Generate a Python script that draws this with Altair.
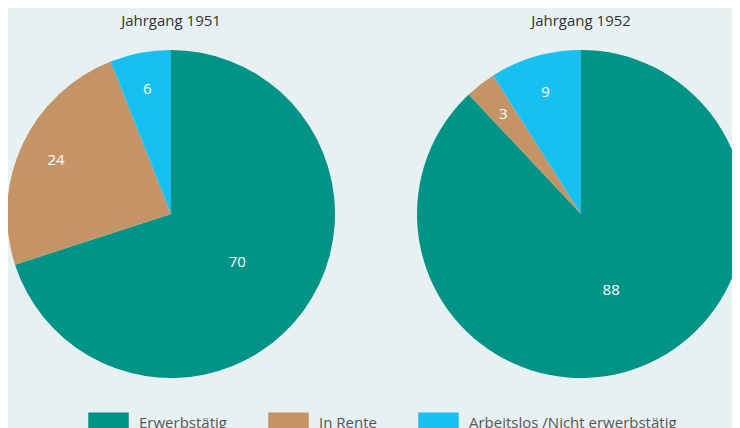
import altair as alt
import pandas as pd

categories = ["Erwerbstätig", "In Rente", "Arbeitslos /Nicht erwerbstätig"]
years = [1951, 1952]
values_1951 = [70, 24, 6]
values_1952 = [88, 3, 9]
titles = ["Jahrgang 1951", "Jahrgang 1952"]
colors = ["#009387", "#c49467", "#17c0f0"]

rows = []
for yr, vals in zip(years, [values_1951, values_1952]):
    for i, (cat, v) in enumerate(zip(categories, vals)):
        rows.append({"year": yr, "Status": cat, "value": v, "order": i})
df = pd.DataFrame(rows)
df_titles = pd.DataFrame({"year": years, "title": titles})

FONT = "Open Sans"

xscale = alt.Scale(type="point", domain=years, range=[163, 573], padding=0)
tscale = alt.Scale(domain=[0, 100], range=[0, 6.283185307179586])

color = alt.Color(
    "Status:N",
    scale=alt.Scale(domain=categories, range=colors),
    legend=alt.Legend(
        title=None,
        orient="none",
        legendX=80,
        legendY=394,
        padding=0,
        direction="horizontal",
        symbolType="M-1,-0.5H1V0.5H-1Z",
        symbolSize=1640,
        symbolStrokeWidth=0,
        symbolOpacity=1,
        labelFontSize=15,
        labelColor="#555555",
        labelFont=FONT,
        labelOffset=10,
        columnPadding=41,
        labelLimit=400,
    ),
)

base = alt.Chart(df).transform_window(
    cum="sum(value)", groupby=["year"], sort=[alt.SortField("order")], frame=[None, 0]
).transform_calculate(
    start="datum.cum - datum.value",
    mid="datum.cum - datum.value / 2",
).encode(
    x=alt.X("year:O", scale=xscale, axis=None),
)

arcs = base.mark_arc(outerRadius=164).encode(
    theta=alt.Theta("start:Q", scale=tscale),
    theta2="cum:Q",
    color=color,
)

lab_big = base.mark_text(font=FONT, fontSize=15, color="white", radius=82).encode(
    theta=alt.Theta("mid:Q", scale=tscale),
    text="value:Q",
    opacity=alt.condition("datum.value > 50", alt.value(1), alt.value(0)),
)
lab_small = base.mark_text(font=FONT, fontSize=15, color="white", radius=127).encode(
    theta=alt.Theta("mid:Q", scale=tscale),
    text="value:Q",
    opacity=alt.condition("datum.value > 50", alt.value(0), alt.value(1)),
)

title_marks = alt.Chart(df_titles).mark_text(
    font=FONT, fontSize=15, color="#333333", baseline="alphabetic"
).encode(
    x=alt.X("year:O", scale=xscale, axis=None),
    y=alt.value(18),
    text="title:N",
)

chart = alt.layer(arcs, lab_big, lab_small, title_marks).properties(
    width=724,
    height=412,
    padding={"left": 0, "right": 0, "top": 0, "bottom": 8},
    background="#e8f1f2",
    autosize=alt.AutoSizeParams(type="none"),
).configure_view(stroke=None)

chart.save("out.html", embed_options={"renderer": "svg", "actions": False})
